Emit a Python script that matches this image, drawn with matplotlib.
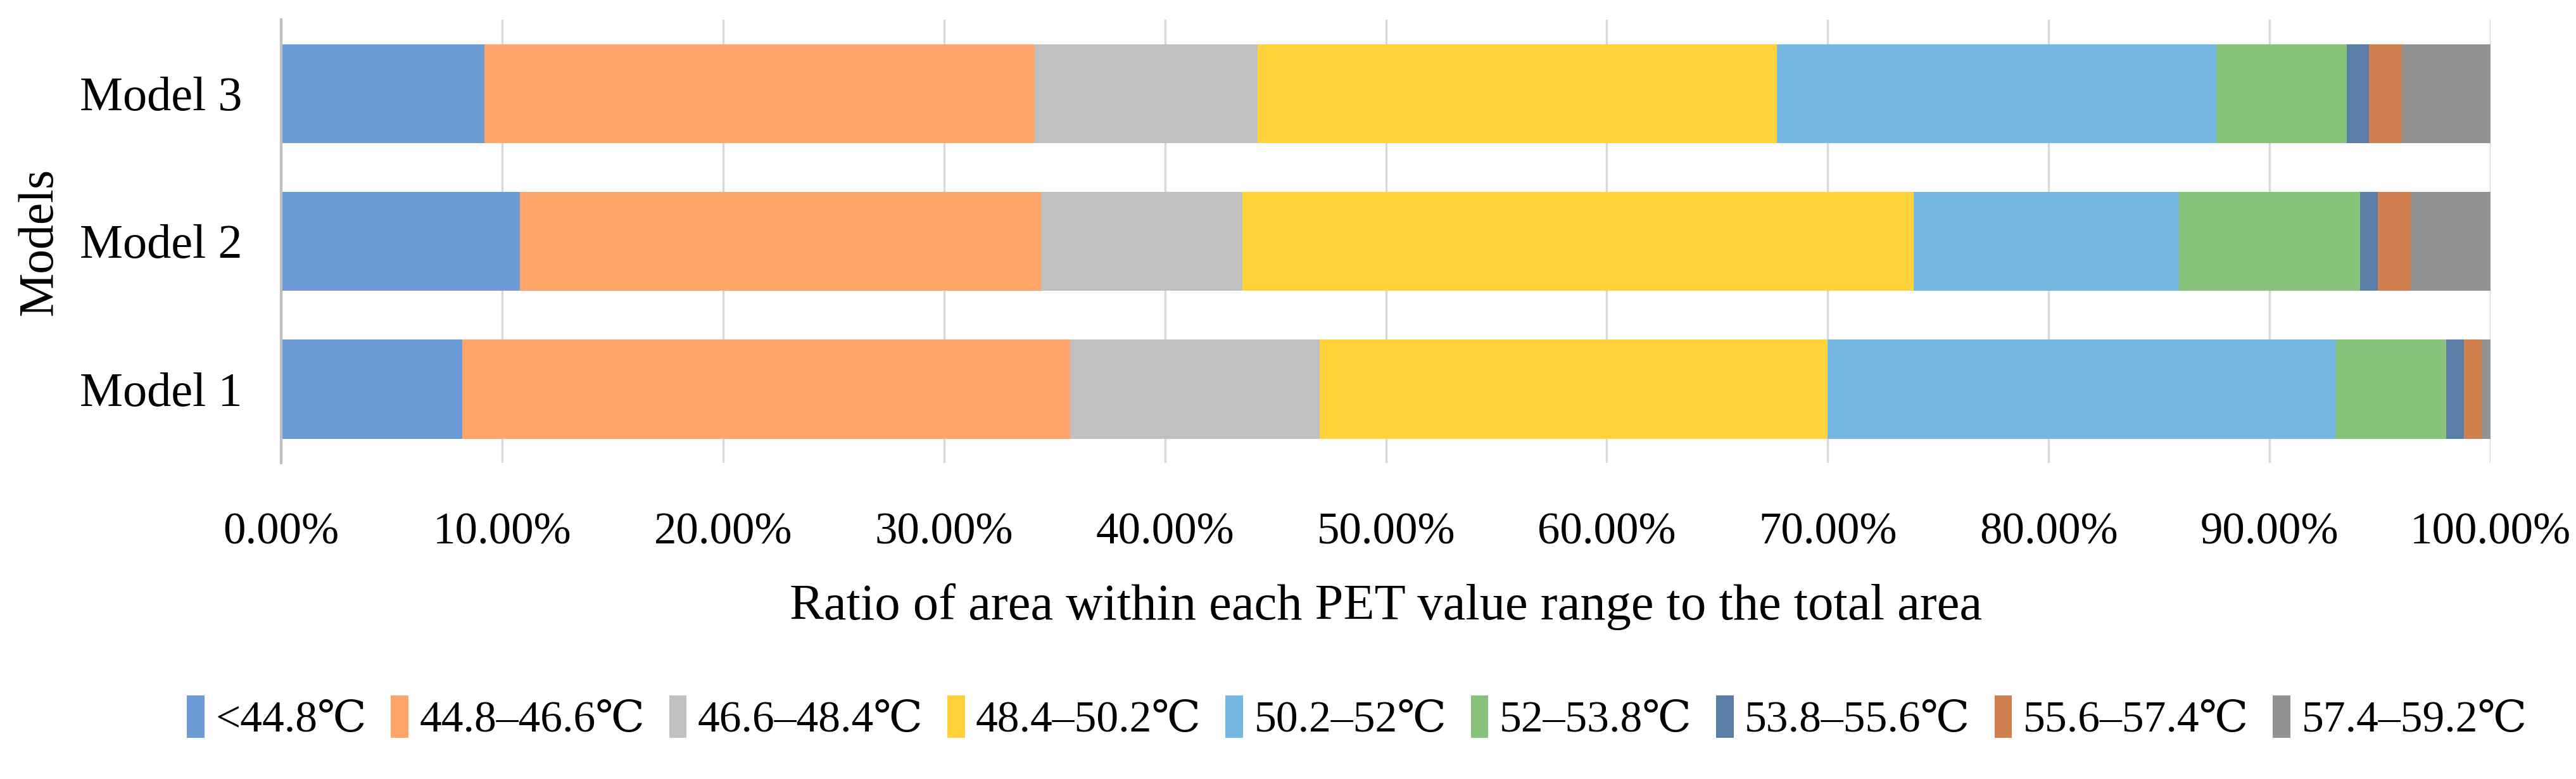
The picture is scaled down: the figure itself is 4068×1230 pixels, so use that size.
import matplotlib
matplotlib.use("Agg")
import matplotlib.pyplot as plt
import numpy as np

models = ["Model 1", "Model 2", "Model 3"]
ranges = ["<44.8\u2103", "44.8\u201346.6\u2103", "46.6\u201348.4\u2103", "48.4\u201350.2\u2103",
          "50.2\u201352\u2103", "52\u201353.8\u2103", "53.8\u201355.6\u2103", "55.6\u201357.4\u2103",
          "57.4\u201359.2\u2103"]
# percentage share of each PET range, per model (Model 1, Model 2, Model 3)
lt_44_8 = [8.2, 10.8, 9.2]
r44_8_46_6 = [27.5, 23.6, 24.9]
r46_6_48_4 = [11.3, 9.1, 10.1]
r48_4_50_2 = [23.0, 30.4, 23.5]
r50_2_52 = [23.0, 12.0, 19.9]
r52_53_8 = [5.0, 8.2, 5.9]
r53_8_55_6 = [0.8, 0.8, 1.0]
r55_6_57_4 = [0.8, 1.5, 1.5]
r57_4_59_2 = [0.4, 3.6, 4.0]
series = [lt_44_8, r44_8_46_6, r46_6_48_4, r48_4_50_2, r50_2_52,
          r52_53_8, r53_8_55_6, r55_6_57_4, r57_4_59_2]
xticks = [0, 10, 20, 30, 40, 50, 60, 70, 80, 90, 100]

colors = ["#6C9BD6", "#FFA46A", "#C0C0C0", "#FFD23C", "#75B8E2",
          "#87C47A", "#5A7EA7", "#D07F4F", "#929292"]

plt.rcParams['font.family'] = ['Liberation Serif', 'DejaVu Serif']

fig = plt.figure(figsize=(40.68, 12.30), dpi=100)
ax = fig.add_axes([444/4068, 1-731/1230, (3933-444)/4068, (731-31)/1230])

y = np.arange(len(models))
left = np.zeros(len(models))
for vals, lab, c in zip(series, ranges, colors):
    v = np.array(vals)
    ax.barh(y, v, left=left, height=0.67, color=c, label=lab, zorder=3)
    left += v

ax.set_xlim(0, 100)
ax.set_ylim(-0.5, 2.5)
ax.set_xticks(xticks)
ax.set_xticklabels([f"{t:.2f}%" for t in xticks], fontsize=51)
ax.set_yticks(y)
ax.set_yticklabels(models, fontsize=55)
ax.tick_params(axis='x', length=0, pad=56)
ax.tick_params(axis='y', length=0, pad=44)
ax.grid(axis='x', color='#D9D9D9', linewidth=2.5, zorder=0)
for s in ['top', 'right', 'bottom']:
    ax.spines[s].set_visible(False)
ax.spines['left'].set_color('#BFBFBF')
ax.spines['left'].set_linewidth(3)
ax.spines['left'].set_zorder(4)

ax.set_xlabel("Ratio of area within each PET value range to the total area", fontsize=58, labelpad=34)
ax.set_ylabel("Models", fontsize=56, labelpad=20)

fig.legend(loc='center', bbox_to_anchor=(826/1568, 1-1134/1230), ncol=9, frameon=False,
           fontsize=50, handlelength=0.4, handleheight=1.1, handletextpad=0.25,
           columnspacing=0.55)

fig.savefig("out.png", dpi=100, facecolor='white')
